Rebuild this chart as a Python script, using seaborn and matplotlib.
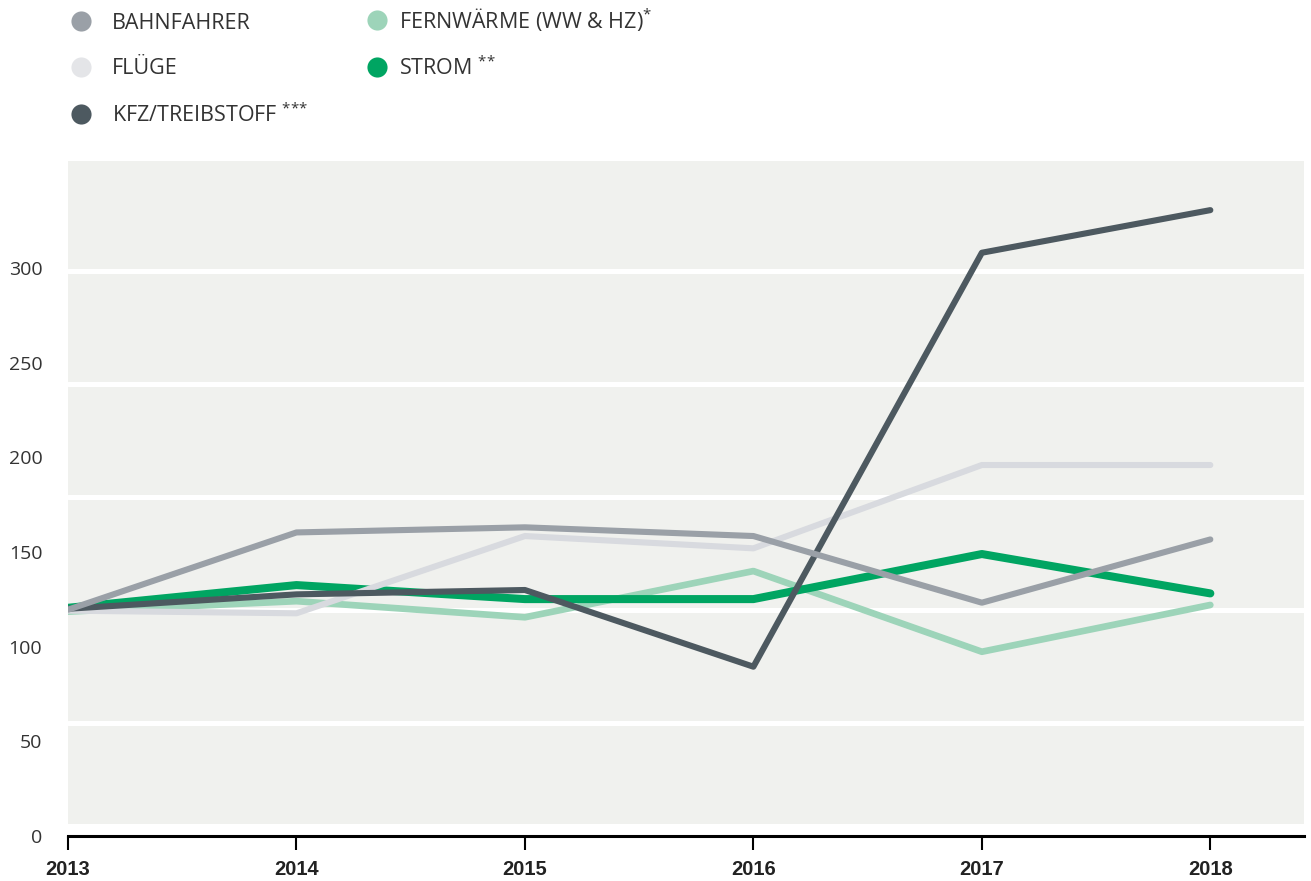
import pandas as pd
import matplotlib
matplotlib.use("Agg")
import matplotlib.pyplot as plt
from matplotlib.lines import Line2D
import seaborn as sns

# ------------------------------------------------------
# DATA
# ------------------------------------------------------
years = [2013, 2014, 2015, 2016, 2017, 2018]
bahnfahrer = [119.5, 160.3, 163.0, 158.4, 123.2, 156.6]
fluege = [119.0, 117.6, 158.4, 151.9, 195.9, 195.9]
kfz = [120.0, 127.6, 129.9, 89.4, 308.0, 330.5]
fernwaerme = [118.5, 124.0, 115.5, 139.9, 97.3, 122.0]
strom = [120.5, 132.5, 125.1, 125.1, 148.9, 128.1]

series = ["BAHNFAHRER", "FLÜGE", "KFZ/TREIBSTOFF", "FERNWÄRME (WW & HZ)", "STROM"]
legend_labels = {
    "BAHNFAHRER": "BAHNFAHRER",
    "FLÜGE": "FLÜGE",
    "KFZ/TREIBSTOFF": "KFZ/TREIBSTOFF $^{{*}{*}{*}}$",
    "FERNWÄRME (WW & HZ)": "FERNWÄRME (WW & HZ)$^{{*}}$",
    "STROM": "STROM $^{{*}{*}}$",
}
y_ticks = [0, 50, 100, 150, 200, 250, 300]

colors = {
    "BAHNFAHRER": "#9aa0a7",
    "FLÜGE": "#d8dadf",
    "KFZ/TREIBSTOFF": "#4d5960",
    "FERNWÄRME (WW & HZ)": "#9dd4b9",
    "STROM": "#00a562",
}
widths = {
    "BAHNFAHRER": 4.4,
    "FLÜGE": 4.4,
    "KFZ/TREIBSTOFF": 4.4,
    "FERNWÄRME (WW & HZ)": 4.8,
    "STROM": 5.8,
}
draw_order = ["FERNWÄRME (WW & HZ)", "STROM", "FLÜGE", "KFZ/TREIBSTOFF", "BAHNFAHRER"]

df = pd.DataFrame({
    "year": years * 5,
    "value": bahnfahrer + fluege + kfz + fernwaerme + strom,
    "series": [s for s in series for _ in years],
})

# ------------------------------------------------------
# STYLE
# ------------------------------------------------------
sns.set_style("white")
plt.rcParams["font.family"] = ["Open Sans", "DejaVu Sans"]
plt.rcParams["mathtext.fontset"] = "custom"
plt.rcParams["mathtext.rm"] = "Open Sans"
plt.rcParams["mathtext.it"] = "Open Sans"
plt.rcParams["mathtext.bf"] = "Open Sans:bold"

YMAX = 356.6
BAND = 59.7

fig = plt.figure(figsize=(13.11, 8.81), dpi=100)
ax = fig.add_axes([68 / 1311, 1 - 836 / 881, (1304 - 68) / 1311, (836 - 160.7) / 881])
ax.set_facecolor("#f0f1ee")

# white band separators
for k in range(1, 6):
    ax.axhline(BAND * k, color="white", lw=3.6, zorder=1)
ax.axhspan(0, 6.3, color="white", lw=0, zorder=1)

sns.lineplot(
    data=df, x="year", y="value", hue="series", size="series",
    hue_order=draw_order, size_order=draw_order,
    palette=colors, sizes=widths, legend=False, ax=ax,
    solid_capstyle="round", zorder=3,
)

ax.set_xlim(2013, 2018.41)
ax.set_ylim(0, YMAX)
ax.set_xlabel("")
ax.set_ylabel("")

for side in ["top", "right", "left"]:
    ax.spines[side].set_visible(False)
ax.spines["bottom"].set_color("black")
ax.spines["bottom"].set_linewidth(2.2)
ax.spines["bottom"].set_zorder(5)

ax.set_xticks(years)
ax.set_xticklabels([str(y) for y in years], fontweight="bold",
                   fontfamily=["Liberation Sans", "DejaVu Sans"], fontsize=14.5, color="#222222")
ax.tick_params(axis="x", direction="out", length=10, width=1.5, color="black", pad=7, bottom=True)

ax.set_yticks(y_ticks)
ax.set_yticklabels([str(v) for v in y_ticks], fontsize=14, color="#333333")
ax.tick_params(axis="y", length=0, pad=18.5)


# ------------------------------------------------------
# LEGEND (two columns, round markers)
# ------------------------------------------------------
def make_handle(name):
    face = "#e4e5e8" if name == "FLÜGE" else colors[name]
    return Line2D([], [], marker="o", ls="", ms=14.5, markerfacecolor=face, markeredgewidth=0)


legend_kw = dict(loc="upper left", frameon=False, fontsize=15.5, handlelength=1.0,
                 borderpad=0, borderaxespad=0, labelcolor="#333333")

col1 = ["BAHNFAHRER", "FLÜGE", "KFZ/TREIBSTOFF"]
col2 = ["FERNWÄRME (WW & HZ)", "STROM"]
fig.legend([make_handle(s) for s in col1], [legend_labels[s] for s in col1],
           bbox_to_anchor=(70.25 / 1311, 1 - 13 / 881), handletextpad=0.94,
           labelspacing=1.12, **legend_kw)
fig.legend([make_handle(s) for s in col2], [legend_labels[s] for s in col2],
           bbox_to_anchor=(366.25 / 1311, 1 - 6 / 881), handletextpad=0.52,
           labelspacing=1.07, **legend_kw)

fig.savefig("out.png", dpi=100)
